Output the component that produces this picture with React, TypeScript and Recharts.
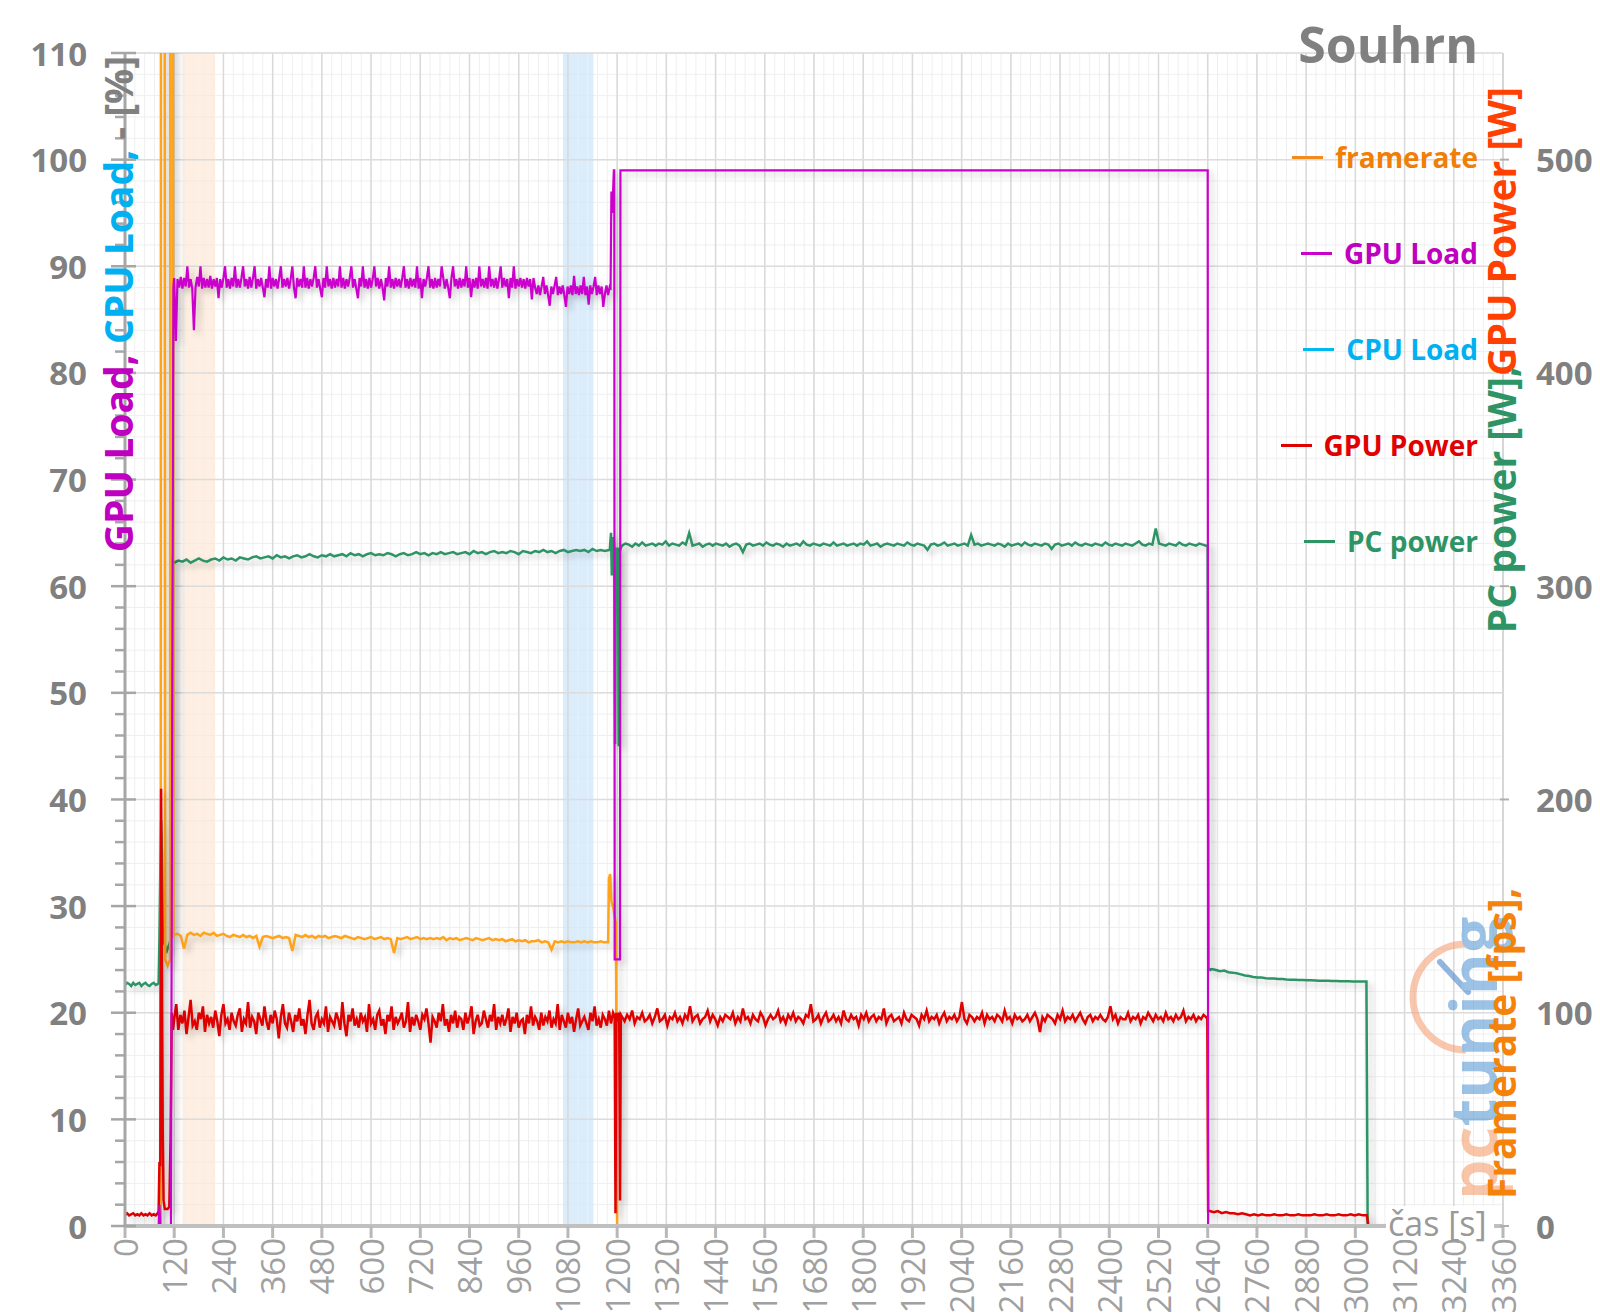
import React from "react";
import { LineChart, Line, XAxis, YAxis, CartesianGrid, ReferenceLine, ReferenceArea } from "recharts";

// time axis [s]
const xTicks = [0, 120, 240, 360, 480, 600, 720, 840, 960, 1080, 1200, 1320, 1440, 1560, 1680, 1800, 1920, 2040, 2160, 2280, 2400, 2520, 2640, 2760, 2880, 3000, 3120, 3240, 3360];
const leftMajor = [0, 10, 20, 30, 40, 50, 60, 70, 80, 90, 100, 110];
const rightTicks = [0, 100, 200, 300, 400, 500];

// shaded intervals [s]
const warmupBand = [140, 220];
const sampleBand = [1068, 1142];

// ---- GPU Power [W] ----
const gpuPowerIdle = [5, 6, 5, 5.5, 6, 5, 5.5, 5, 6, 5, 5.5, 5, 6, 5, 5.5, 5, 6];
const gpuPowerStart: [number, number][] = [[82, 7], [84, 30], [86, 28], [88, 205], [90, 130], [92, 45], [94, 12], [97, 8], [104, 8], [108, 9], [111, 40], [114, 100], [117, 92]];
const gpuPowerRunA = [
  97, 104, 92, 99, 95, 101, 90, 98, 106, 94,
  96, 92, 100, 97, 103, 91, 99, 95, 98, 93,
  101, 96, 89, 99, 104, 95, 97, 92, 100, 96,
  94, 99, 102, 91, 97, 95, 105, 93, 98, 96,
  90, 100, 97, 94, 103, 96, 92, 99, 95, 101,
  97, 88, 98, 104, 95, 93, 100, 96, 91, 99,
  96, 102, 94, 97, 90, 99, 106, 95, 92, 98,
  100, 93, 97, 95, 103, 91, 98, 96, 94, 100,
  97, 92, 105, 95, 89, 99, 96, 102, 94, 97,
  93, 100, 96, 98, 91, 104, 95, 97, 92, 99,
  101, 94, 97, 90, 99, 96, 103, 92, 98, 95,
  97, 100, 93, 96, 105, 91, 98, 94, 99, 96,
  92, 99, 97, 102, 95, 86, 98, 96, 93, 100,
  96, 104, 94, 97, 91, 99, 95, 101, 93, 98,
  97, 92, 100, 95, 98, 103, 90, 96, 99, 94,
  95, 101, 97, 93, 99, 96, 104, 92, 98, 95,
  99, 94, 97, 102, 91, 98, 95, 100, 93, 96,
  97, 90, 99, 95, 103, 94, 98, 96, 92, 100,
  94, 98, 96, 101, 93, 97, 95, 104, 92, 99,
  96, 93, 100, 95, 98, 91, 97, 102, 94, 96,
  98, 95, 92, 100, 96, 103, 94, 97, 93, 99,
  97, 94, 101, 95,
];
const gpuPowerMid: [number, number][] = [[1190, 100], [1194, 98], [1196, 6], [1198, 100], [1202, 96], [1205, 100], [1207, 12], [1209, 99]];
const gpuPowerRunB = [
  98, 96, 99, 97, 101, 95, 98, 97, 100, 96,
  97, 99, 95, 98, 102, 96, 97, 99, 94, 98,
  97, 100, 96, 98, 95, 99, 97, 103, 96, 98,
  99, 95, 97, 98, 101, 96, 99, 97, 94, 98,
  96, 99, 98, 97, 100, 95, 98, 96, 102, 97,
  98, 95, 99, 97, 96, 100, 98, 94, 97, 99,
  97, 98, 101, 96, 98, 95, 99, 97, 100, 96,
  98, 97, 95, 99, 98, 104, 96, 97, 99, 95,
  98, 100, 96, 97, 99, 96, 98, 95, 101, 97,
  96, 99, 97, 98, 94, 99, 97, 100, 96, 98,
  99, 96, 98, 97, 102, 95, 98, 99, 96, 97,
  98, 95, 100, 97, 96, 99, 98, 97, 94, 99,
  97, 101, 96, 98, 97, 99, 95, 98, 100, 96,
  98, 97, 99, 96, 98, 105, 97, 95, 99, 98,
  96, 98, 97, 100, 95, 99, 97, 98, 96, 99,
  98, 96, 101, 97, 98, 95, 99, 97, 98, 96,
  97, 99, 96, 98, 100, 97, 91, 98, 96, 99,
  98, 97, 95, 99, 97, 101, 96, 98, 97, 99,
  96, 98, 100, 97, 95, 98, 99, 96, 98, 97,
  99, 97, 96, 98, 103, 97, 99, 95, 98, 97,
  97, 100, 96, 98, 97, 99, 95, 98, 97, 100,
  98, 96, 99, 97, 98, 96, 100, 97, 98, 96,
  99, 97, 98, 101, 96, 98, 97, 99, 96, 98,
  97, 99, 98,
];
const gpuPowerDrop: [number, number][] = [[2639, 97], [2641, 7]];
const gpuPowerTail = [7, 6.5, 7, 6, 6.5, 6, 6, 5.5, 6, 5.5, 5, 5.5, 5, 5.5, 5, 5, 5.5, 5, 5, 5.5, 5, 5, 5.5, 5, 5, 5, 5.5, 5, 5, 5.5, 5, 5, 5.5, 5, 5, 5.5, 5, 5.5, 5, 5];
const gpuPowerOff: [number, number][] = [[3032, 0], [3080, 0]];

// ---- GPU Load [%] ----
const gpuLoadStart: [number, number][] = [[0, 0], [82, 0], [84, 2], [86, 0], [112, 0], [116, 60], [118, 88]];
const gpuLoadRunA = [
  88.9, 83, 88.8, 88, 89, 87.9, 88.9, 88.1, 90, 88,
  88.8, 87.9, 84, 88, 89, 88.1, 90, 87.9, 88.9, 88,
  88.8, 88, 89.1, 87.9, 88.8, 88.1, 88.9, 87, 88.8, 88,
  88.9, 90, 88, 88.8, 87.9, 88.9, 88.1, 90, 88, 88.8,
  88, 88.9, 90, 88.1, 88.8, 87.9, 89, 88, 88.9, 90,
  87.9, 88.8, 88.1, 88.9, 88, 87.1, 88.8, 88, 90, 87.9,
  88.9, 88.1, 88.8, 87.9, 88.9, 90, 88, 88.8, 88.1, 88.9,
  87.9, 88.8, 90, 88, 87, 88.9, 88.1, 88.8, 88, 90,
  88, 88.9, 87.9, 88.8, 88.1, 88.9, 90, 88, 88.8, 87.9,
  87.1, 88.9, 88, 90, 88.1, 88.8, 87.9, 88.9, 88, 88.8,
  88.1, 90, 88, 88.9, 87.9, 88.8, 88.1, 88.9, 90, 88,
  88.8, 87.9, 87, 88.9, 88.1, 90, 88, 88.8, 87.9, 88.9,
  88, 88.8, 90, 88.1, 88.9, 87.9, 88.8, 88, 86.8, 88.9,
  88.1, 90, 88, 88.8, 87.9, 88.9, 88.1, 88.8, 88, 88.9,
  90, 88, 88.8, 87.9, 88.9, 88.1, 88.8, 88, 90, 87.9,
  88.9, 87, 88.8, 88.1, 88.9, 90, 88, 88.8, 87.9, 88.9,
  88, 88.8, 88.1, 90, 88.9, 87.9, 88.8, 88, 87, 88.9,
  90, 88.1, 88.8, 87.9, 88.9, 88, 88.8, 88.1, 90, 88,
  88.9, 87.1, 88.8, 88, 88.9, 87.9, 90, 88.1, 88.8, 88,
  88.9, 87.9, 90, 88.1, 88.8, 88, 88.9, 87.9, 88.8, 90,
  88, 88.9, 88.1, 88.8, 87, 88.9, 88, 90, 87.9, 88.8,
  88.1, 88.9, 88, 88.8, 87.9, 88.9, 88.1, 88.8, 86.9, 88.9,
  88,
];
const gpuLoadRunB = [
  87.4, 88.2, 87.3, 88.1, 89, 87.4, 88.2, 87.3, 86.3, 88.1,
  87.4, 88.2, 89, 87.3, 88.1, 87.4, 88.2, 87.3, 86.2, 88.1,
  87.4, 88.2, 87.3, 89.1, 87.4, 88.1, 87.3, 88.2, 87.4, 89,
  87.3, 88.1, 86.4, 88.2, 87.4, 88.1, 89, 87.3, 88.2, 87.4,
  88.1, 86.2, 87.4, 88.2, 87.3, 88.1,
];
const gpuLoadEnd: [number, number][] = [[1184, 88], [1186, 97], [1188, 95], [1190, 97], [1192, 99], [1193, 99], [1194, 25], [1207, 25], [1208, 99], [2640, 99], [2641, 0], [2644, 0]];

// ---- PC power [W] ----
const pcPowerIdle = [113, 114, 113.5, 112.5, 114, 113, 113.5, 114, 112.5, 113.5, 114, 113, 112.5, 113.5, 114, 113, 113.5];
const pcPowerStart: [number, number][] = [[82, 114], [84, 135], [86, 165], [88, 190], [90, 175], [92, 140], [94, 132], [96, 134], [100, 128], [104, 130], [108, 132], [112, 135], [115, 200], [117, 312]];
const pcPowerRunA = [
  311, 312, 311.5, 312.5, 311, 312, 313, 312, 311.5, 312.5,
  313, 312, 313.5, 312.5, 313, 312, 313.5, 313, 312.5, 313.5,
  314, 313, 313.5, 314, 313, 314.5, 313.5, 314, 313, 314,
  314.5, 313.5, 314, 315, 314, 313.5, 314.5, 314, 315, 314,
  314.5, 315, 314, 315.5, 314.5, 315, 314, 315, 315.5, 314.5,
  315, 314.5, 315.5, 315, 314, 315, 315.5, 314.5, 315, 316,
  315, 315.5, 314.5, 315.5, 315, 316, 315, 315.5, 316, 315,
  315.5, 316, 315, 316.5, 315.5, 316, 315, 316, 316.5, 315.5,
  316, 315.5, 316.5, 316, 315, 316.5, 316, 315.5, 316.5, 316,
  317, 316, 316.5, 315.5, 316.5, 317, 316, 316.5, 317, 316.5,
  317, 316, 317.5, 316.5, 317, 316.5, 317,
];
const pcPowerMid: [number, number][] = [[1182, 317], [1185, 325], [1187, 305], [1189, 322], [1191, 323], [1193, 318], [1195, 226], [1197, 318], [1199, 316], [1202, 318], [1204, 225], [1206, 316], [1209, 318]];
const pcPowerRunB = [
  319, 320, 319.5, 318.5, 320, 319, 320.5, 319, 319.5, 320,
  319, 320, 319.5, 321, 319, 320, 319.5, 319, 320.5, 319.5,
  325, 319, 319.5, 320, 318.5, 319.5, 320, 319, 320, 319.5,
  319, 320, 318.5, 319.5, 320, 319, 316, 319.5, 320, 319,
  319.5, 320, 319, 320.5, 319.5, 319, 320, 319.5, 318.5, 320,
  319, 319.5, 320, 319, 321, 319.5, 319, 320, 319.5, 319,
  320, 319.5, 319, 320.5, 319, 319.5, 320, 319, 319.5, 320,
  319, 320, 319.5, 321, 319, 319.5, 320, 318.5, 319.5, 320,
  319.5, 319, 320, 319.5, 319, 320.5, 319.5, 319, 320, 319.5,
  319, 317, 319.5, 320, 319, 319.5, 320.5, 319, 319.5, 320,
  319, 319.5, 320, 319, 324, 319.5, 320, 319, 319.5, 320,
  319.5, 319, 320, 319.5, 318.5, 320, 319, 319.5, 320, 319,
  320.5, 319.5, 319, 320, 319.5, 319, 320, 319.5, 317.5, 319.5,
  320, 319, 319.5, 320, 319, 320.5, 319.5, 319, 320, 319.5,
  319, 320, 319.5, 319, 320.5, 319.5, 319, 320, 319.5, 319,
  320, 319.5, 319, 320, 321, 319.5, 319, 320, 319.5, 327,
  320, 319.5, 319, 320, 319.5, 319, 320.5, 319.5, 319, 320,
  319.5, 319, 320, 319.5, 319,
];
const pcPowerDrop: [number, number][] = [[2640, 319], [2642, 121], [2646, 120]];
const pcPowerTail = [
  120.5, 120, 119.5, 119.8, 119, 118.8, 118.5, 118, 117.5, 117.2,
  116.8, 116.5, 116.5, 116.2, 116, 116, 115.8, 115.8, 115.6, 115.5,
  115.5, 115.4, 115.3, 115.2, 115.2, 115.1, 115, 115, 115, 114.9,
  114.9, 114.8, 114.8, 114.8, 114.7, 114.7, 114.6, 114.6,
];
const pcPowerOff: [number, number][] = [[3027, 114.6], [3030, 0], [3080, 0]];

// ---- framerate [fps] ----
const fpsStart: [number, number][] = [[0, 0], [87, 0], [88, 900], [96, 900], [98, 125], [104, 122], [110, 125], [111, 900], [116, 900], [118, 136]];
const fpsRun = [
  136.5, 137, 136, 130, 136.5, 137.5, 136.5, 137, 136, 137.5,
  137, 136.5, 137.5, 136, 136.5, 137, 136, 135.5, 136.5, 136,
  135.5, 136.5, 135.5, 136, 135, 136, 131, 135.5, 136, 135.5,
  135, 135.5, 136, 135, 135.5, 135, 129, 136.5, 136, 135.5,
  136.5, 135.5, 136, 135, 136, 135.5, 136, 135, 135.5, 136,
  135.5, 135, 136, 135.5, 135, 134.5, 135.5, 135, 134.5, 135,
  135.5, 134.5, 135, 135.5, 134.5, 135, 134.5, 128, 135, 134.5,
  135, 135.5, 134.5, 135, 135.5, 134.5, 135, 134.5, 135, 134.5,
  135, 134.5, 135.5, 134, 135, 134.5, 135, 134, 134.5, 135,
  134.5, 134, 135, 134.5, 134, 134.5, 135, 134, 134.5, 134,
  134.5, 133.5, 134, 134.5, 133.5, 134, 133.5, 134, 133, 133.5,
  133.5, 134, 133, 133.5, 133, 129.5, 133.5, 133, 133.5, 133,
  133.5, 133, 133, 133.5, 133, 133.5, 133, 133.5, 133, 133,
  133.5, 133, 133,
];
const fpsEnd: [number, number][] = [[1178, 133], [1180, 163], [1183, 165], [1186, 152], [1190, 150], [1194, 145], [1197, 142], [1200, 0], [3030, 0]];

const legendItems = ["framerate", "GPU Load", "CPU Load", "GPU Power", "PC power"];

const COLORS: Record<string, { line: string; text: string }> = {
  framerate: { line: "#f28a1e", text: "#f07f09" },
  "GPU Load": { line: "#cc00cc", text: "#c000c0" },
  "CPU Load": { line: "#00b8f0", text: "#00b0f0" },
  "GPU Power": { line: "#e00000", text: "#e00000" },
  "PC power": { line: "#2e9466", text: "#2e9466" },
};

type Pt = { t: number; v: number };
const run = (start: number, end: number, vals: number[]): Pt[] =>
  vals.map((v, i) => ({ t: start + (i * (end - start)) / (vals.length - 1), v }));
const pts = (pairs: [number, number][]): Pt[] => pairs.map(([t, v]) => ({ t, v }));

const gpuPowerData = [
  ...run(0, 80, gpuPowerIdle), ...pts(gpuPowerStart), ...run(120, 1185, gpuPowerRunA),
  ...pts(gpuPowerMid), ...run(1212, 2636, gpuPowerRunB), ...pts(gpuPowerDrop),
  ...run(2645, 3028, gpuPowerTail), ...pts(gpuPowerOff),
];
const gpuLoadData = [...pts(gpuLoadStart), ...run(120, 1000, gpuLoadRunA), ...run(1004, 1182, gpuLoadRunB), ...pts(gpuLoadEnd)];
const pcPowerData = [
  ...run(0, 80, pcPowerIdle), ...pts(pcPowerStart), ...run(120, 1180, pcPowerRunA),
  ...pts(pcPowerMid), ...run(1212, 2636, pcPowerRunB), ...pts(pcPowerDrop),
  ...run(2650, 3024, pcPowerTail), ...pts(pcPowerOff),
];
const fpsData = [...pts(fpsStart), ...run(120, 1176, fpsRun), ...pts(fpsEnd)];

const minorX: number[] = [];
for (let t = 24; t < 3360; t += 24) if (t % 120 !== 0) minorX.push(t);
const leftTicks: number[] = [];
for (let v = 0; v <= 110; v += 2) leftTicks.push(v);

const FONT = "'Open Sans', 'DejaVu Sans', sans-serif";

const LeftTick = ({ x, y, payload }: any) => {
  const major = leftMajor.includes(payload.value);
  return (
    <g>
      <line x1={major ? x - 14 : x - 10} x2={major ? x + 11 : x} y1={y} y2={y} stroke="#a6a6a6" strokeWidth={2.5} />
      {major && (
        <text x={x - 38} y={y} textAnchor="end" dominantBaseline="central" fontSize={33} fontWeight={700} fill="#808080" fontFamily={FONT}>
          {payload.value}
        </text>
      )}
    </g>
  );
};

const RightTick = ({ x, y, payload }: any) => (
  <g>
    <line x1={x - 3} x2={x + 6} y1={y} y2={y} stroke="#b0b0b0" strokeWidth={2} />
    <text x={x + 33} y={y} textAnchor="start" dominantBaseline="central" fontSize={33} fontWeight={700} fill="#808080" fontFamily={FONT}>
      {payload.value}
    </text>
  </g>
);

const BottomTick = ({ x, y, payload }: any) => (
  <g>
    <line x1={x} x2={x} y1={y} y2={y + 12} stroke="#b8b8b8" strokeWidth={3} />
    <text x={x} y={y + 12} transform={`rotate(-90 ${x} ${y + 12})`} textAnchor="end" dominantBaseline="central" fontSize={33} fill="#a0a0a0" fontFamily={FONT}>
      {payload.value}
    </text>
  </g>
);

export default function App() {
  return (
    <div style={{ position: "relative", width: 1600, height: 1314, background: "#fff", fontFamily: FONT, overflow: "hidden" }}>
      <style>{`body{margin:0} .recharts-line-curve{filter:drop-shadow(4px 4px 3px rgba(0,0,0,0.2))}`}</style>
      <LineChart width={1600} height={1314} margin={{ top: 53, right: 0, bottom: 0, left: 0 }}>
        <CartesianGrid yAxisId="left" stroke="#efefef" strokeWidth={1} />
        {minorX.map((t) => (
          <ReferenceLine key={`mx${t}`} x={t} yAxisId="left" stroke="#efefef" strokeWidth={1} />
        ))}
        {xTicks.map((t) => (
          <ReferenceLine key={`Mx${t}`} x={t} yAxisId="left" stroke="#d9d9d9" strokeWidth={1.5} />
        ))}
        {leftMajor.map((v) => (
          <ReferenceLine key={`My${v}`} y={v} yAxisId="left" stroke="#dcdcdc" strokeWidth={1.5} />
        ))}
        <ReferenceArea x1={warmupBand[0]} x2={warmupBand[1]} yAxisId="left" fill="#fde4cf" fillOpacity={0.6} strokeOpacity={0} />
        <ReferenceArea x1={sampleBand[0]} x2={sampleBand[1]} yAxisId="left" fill="#cfe5fa" fillOpacity={0.75} strokeOpacity={0} />
        <XAxis
          dataKey="t"
          type="number"
          domain={[0, 3360]}
          ticks={xTicks}
          height={88}
          tickSize={0}
          tickMargin={0}
          tick={<BottomTick />}
          axisLine={{ stroke: "#c0c0c0", strokeWidth: 4 }}
          interval={0}
        />
        <YAxis
          yAxisId="left"
          domain={[0, 110]}
          ticks={leftTicks}
          width={125}
          tickSize={0}
          tickMargin={0}
          tick={<LeftTick />}
          axisLine={{ stroke: "#a6a6a6", strokeWidth: 3 }}
          interval={0}
          allowDataOverflow
        />
        <YAxis
          yAxisId="right"
          orientation="right"
          domain={[0, 550]}
          ticks={rightTicks}
          width={97}
          tickSize={0}
          tickMargin={0}
          tick={<RightTick />}
          axisLine={{ stroke: "#d4d4d4", strokeWidth: 1.5 }}
          interval={0}
          allowDataOverflow
        />
        <Line yAxisId="right" data={pcPowerData} dataKey="v" type="linear" stroke={COLORS["PC power"].line} strokeWidth={2.5} dot={false} isAnimationActive={false} />
        <Line yAxisId="right" data={fpsData} dataKey="v" type="linear" stroke="#ffa31a" strokeWidth={2.5} dot={false} isAnimationActive={false} />
        <Line yAxisId="right" data={gpuPowerData} dataKey="v" type="linear" stroke={COLORS["GPU Power"].line} strokeWidth={2.5} dot={false} isAnimationActive={false} />
        <Line yAxisId="left" data={gpuLoadData} dataKey="v" type="linear" stroke={COLORS["GPU Load"].line} strokeWidth={2.2} dot={false} isAnimationActive={false} />
      </LineChart>

      <svg width={1600} height={1314} style={{ position: "absolute", left: 0, top: 0, pointerEvents: "none" }} fontFamily={FONT}>
        {/* watermark logo, behind the axis titles */}
        <g opacity={0.6}>
          <path d="M 1466 944 A 53 53 0 0 0 1466 1050" fill="none" stroke="#f4a27a" strokeWidth={7} />
          <line x1={1440} y1={962} x2={1468} y2={992} stroke="#4a86c8" strokeWidth={6} strokeLinecap="round" />
          <text transform="translate(1497 1200) rotate(-90)" fontSize={64} fontWeight={700}>
            <tspan fill="#f4a070">pc</tspan>
            <tspan fill="#5b9bd5">tuning</tspan>
          </text>
        </g>
        <text x={1478} y={63} textAnchor="end" fontSize={50} fontWeight={700} fill="#808080">Souhrn</text>
        <text transform="translate(117 304) rotate(-90)" textAnchor="middle" dominantBaseline="central" fontSize={39} fontWeight={700}>
          <tspan fill="#c000c0">GPU Load,</tspan>
          <tspan fill="#00b0f0"> CPU Load,</tspan>
          <tspan fill="#808080"> - [%]</tspan>
        </text>
        <text transform="translate(1500 87) rotate(-90)" textAnchor="end" dominantBaseline="central" fontSize={39} fontWeight={700} fill="#ff4000">
          GPU Power [W]
        </text>
        <text transform="translate(1500 366) rotate(-90)" textAnchor="end" dominantBaseline="central" fontSize={39} fontWeight={700} fill="#2e9466">
          PC power [W],
        </text>
        <text transform="translate(1500 1199) rotate(-90)" textAnchor="start" dominantBaseline="central" fontSize={39} fontWeight={700} fill="#f5820a">
          Framerate [fps],
        </text>
        <rect x={1386} y={1206} width={108} height={34} fill="#fff" />
        <text x={1388} y={1236} fontSize={34} fill="#999">čas [s]</text>
      </svg>

      <div style={{ position: "absolute", right: 122, top: 109, display: "flex", flexDirection: "column", alignItems: "flex-end" }}>
        {legendItems.map((name) => (
          <div key={name} style={{ display: "flex", alignItems: "center", height: 96, fontSize: 28, fontWeight: 700, color: COLORS[name].text }}>
            <span style={{ display: "inline-block", width: 31, height: 3, background: COLORS[name].line, marginRight: 12 }} />
            {name}
          </div>
        ))}
      </div>
    </div>
  );
}
